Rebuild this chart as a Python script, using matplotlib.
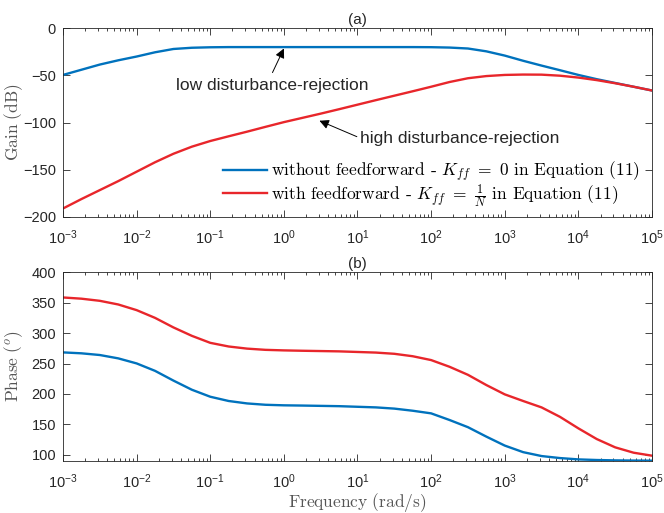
import numpy as np
import matplotlib
matplotlib.use("Agg")
import matplotlib.pyplot as plt
from matplotlib.ticker import LogLocator, NullFormatter
from matplotlib.font_manager import FontProperties

plt.rcParams['font.family'] = ['Liberation Sans', 'DejaVu Sans']
plt.rcParams['mathtext.fontset'] = 'custom'
plt.rcParams['mathtext.rm'] = 'Liberation Sans'
plt.rcParams['mathtext.it'] = 'Liberation Sans:italic'
plt.rcParams['mathtext.bf'] = 'Liberation Sans:bold'

# frequency grid (rad/s), quarter decades from 1e-3 to 1e5
freq_exp = [-3, -2.75, -2.5, -2.25, -2, -1.75, -1.5, -1.25, -1, -0.75, -0.5, -0.25,
            0, 0.25, 0.5, 0.75, 1, 1.25, 1.5, 1.75, 2, 2.25, 2.5, 2.75,
            3, 3.25, 3.5, 3.75, 4, 4.25, 4.5, 4.75, 5]
freq = [10.0 ** e for e in freq_exp]

# values
gain_without = [-49.5, -44, -38.5, -34, -30, -25.5, -22, -20.7, -20.2, -20, -20, -20,
                -20, -20, -20, -20, -20, -20, -20, -20, -20.1, -20.5, -21.5, -24.5,
                -29, -34.5, -39.6, -44.5, -49.5, -54, -58, -62, -66]
gain_with = [-191, -181, -171.5, -162, -152, -142, -133, -125.5, -119.5, -114.5, -109.6, -104.5,
             -99.5, -95, -90.5, -85.8, -81, -76.2, -71.5, -66.8, -62, -57, -53, -50.7,
             -49.5, -49.1, -49.2, -50.3, -52.3, -55, -58.3, -62, -66]
phase_without = [268.3, 266.8, 264, 258.5, 250.2, 238, 222, 207, 195.5, 188.5, 184.5, 182.3,
                 181.4, 181, 180.5, 180, 179, 178, 176, 172.5, 168.2, 157.3, 145.5, 130,
                 115.3, 104.5, 98.1, 94.8, 92.6, 91.6, 91, 90.7, 90.5]
phase_with = [358.5, 356.5, 353, 347, 337.7, 325, 309.3, 295.5, 284, 278, 274.5, 272.5,
              271.6, 271, 270.5, 270, 269, 268, 266, 262, 255.7, 244.7, 231.5, 214.7,
              199.4, 188.5, 178, 162.5, 143.6, 126, 112.4, 103.6, 98.7]

xticks = [1e-3, 1e-2, 1e-1, 1e0, 1e1, 1e2, 1e3, 1e4, 1e5]
gain_ticks = [-200, -150, -100, -50, 0]
phase_ticks = [100, 150, 200, 250, 300, 350, 400]

blue = '#0072BD'
red = '#E8262B'
grey = '#262626'
label_grey = '#555555'

fig = plt.figure(figsize=(6.64, 5.13), dpi=100)
ax1 = fig.add_axes([0.0949, 0.577, 0.887, 0.368])
ax2 = fig.add_axes([0.0949, 0.1014, 0.887, 0.368])

def style(ax):
    ax.set_xscale('log')
    ax.set_xlim(1e-3, 1e5)
    ax.set_xticks(xticks)
    ax.xaxis.set_minor_locator(LogLocator(base=10, subs=np.arange(2, 10), numticks=20))
    ax.xaxis.set_minor_formatter(NullFormatter())
    ax.tick_params(which='both', direction='in', top=True, right=True, colors=grey,
                   labelsize=10.5, labelcolor=grey)
    ax.tick_params(which='major', length=5, width=0.6, pad=5)
    ax.tick_params(axis='x', which='major', pad=8)
    ax.tick_params(which='minor', length=2.5, width=0.6)
    for s in ax.spines.values():
        s.set_color(grey)
        s.set_linewidth(0.6)

cm_label = dict(fontsize=12.5, color=label_grey, math_fontfamily='cm')

# (a) gain
ax1.plot(freq, gain_without, color=blue, lw=1.7,
         label=r'without feedforward - $K_{ff}\ =\ 0$ in Equation (11)')
ax1.plot(freq, gain_with, color=red, lw=1.7,
         label=r'with feedforward - $K_{ff}\ =\ \frac{1}{N}$ in Equation (11)')
style(ax1)
ax1.set_ylim(-200, 0)
ax1.set_yticks(gain_ticks)
ax1.set_ylabel(r'$\mathrm{Gain\ (dB)}$', va='center', **cm_label)
ax1.yaxis.set_label_coords(-0.083, 0.5)
ax1.set_title('(a)', fontsize=11, color=grey, pad=3)
leg_font = FontProperties(family='cmr10', size=12.5, math_fontfamily='cm')
ax1.legend(loc='center left', frameon=False, prop=leg_font, handlelength=2.5,
           handletextpad=0.25, labelspacing=-0.1, borderpad=0, borderaxespad=0,
           bbox_to_anchor=(0.272, 0.17))

ax1.text(0.7, -60.5, 'low disturbance-rejection', fontsize=12.5, color=grey,
         ha='center', va='center')
ax1.annotate('', xy=(1.0, -21.5), xytext=(0.70, -47),
             arrowprops=dict(arrowstyle='-|>', color='black', lw=0.7,
                             shrinkA=0, shrinkB=0, mutation_scale=14))
ax1.text(10.8, -117.3, 'high disturbance-rejection', fontsize=12.5, color=grey,
         ha='left', va='center')
ax1.annotate('', xy=(3.04, -98), xytext=(9.8, -114.9),
             arrowprops=dict(arrowstyle='-|>', color='black', lw=0.7,
                             shrinkA=0, shrinkB=0, mutation_scale=14))

# (b) phase
ax2.plot(freq, phase_without, color=blue, lw=1.7)
ax2.plot(freq, phase_with, color=red, lw=1.7)
style(ax2)
ax2.set_ylim(90, 400)
ax2.set_yticks(phase_ticks)
ax2.set_ylabel(r'$\mathrm{Phase\ (}^{o}\mathrm{)}$', va='center', **cm_label)
ax2.yaxis.set_label_coords(-0.083, 0.5)
ax2.set_xlabel(r'$\mathrm{Frequency\ (rad/s)}$', labelpad=0, **cm_label)
ax2.set_title('(b)', fontsize=11, color=grey, pad=3)

fig.savefig('out.png', dpi=100)
